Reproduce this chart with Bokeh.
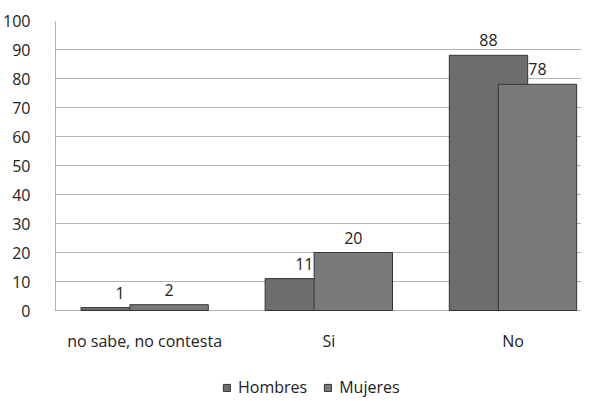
from bokeh.plotting import figure
from bokeh.models import ColumnDataSource, Range1d, FixedTicker, Legend, LegendItem, LabelSet
from bokeh.core.properties import value
from bokeh.embed import file_html
from bokeh.resources import INLINE

categories = ["no sabe, no contesta", "Si", "No"]
hombres = [1, 11, 88]
mujeres = [2, 20, 78]
y_ticks = [0, 10, 20, 30, 40, 50, 60, 70, 80, 90, 100]

FONT = "Open Sans"
idx = list(range(len(categories)))
off = 0.133
bw = 0.4255

src_h = ColumnDataSource(dict(x=[i - off for i in idx], top=hombres, lab=[str(v) for v in hombres]))
src_m = ColumnDataSource(dict(x=[i + off for i in idx], top=mujeres, lab=[str(v) for v in mujeres]))
src_c = ColumnDataSource(dict(x=idx, y=[0] * len(idx), lab=categories))

# frame spans the legend area too; value 0 sits 88px above the frame bottom
p = figure(width=581, height=398, output_backend="svg", toolbar_location=None,
           x_range=Range1d(-0.484, 2.372), y_range=Range1d(-30.34, 100),
           min_border_left=44, min_border_right=0, min_border_top=20, min_border_bottom=0)
p.outline_line_color = None
p.background_fill_color = "white"
p.xaxis.visible = False

rh = p.vbar(x="x", top="top", width=bw, bottom=0, source=src_h,
            fill_color="#6e6e6e", line_color="#333333", line_width=1)
rm = p.vbar(x="x", top="top", width=bw, bottom=0, source=src_m,
            fill_color="#7a7a7a", line_color="#333333", line_width=1)

for s in (src_h, src_m):
    p.add_layout(LabelSet(x="x", y="top", text="lab", source=s, y_offset=9,
                          text_align="center", text_baseline="bottom",
                          text_font=value(FONT), text_font_size=value("16px"),
                          text_color="#222222"))

p.add_layout(LabelSet(x="x", y="y", text="lab", source=src_c, y_offset=-30,
                      text_align="center", text_baseline="middle",
                      text_font=value(FONT), text_font_size=value("16px"),
                      text_color="#222222"))

p.yaxis.ticker = FixedTicker(ticks=y_ticks)
p.yaxis.bounds = (0, 100)
p.yaxis.major_label_text_font = FONT
p.yaxis.major_label_text_font_size = "16px"
p.yaxis.major_label_text_color = "#222222"
p.yaxis.major_label_standoff = 19
p.yaxis.major_tick_line_color = None
p.yaxis.minor_tick_line_color = None
p.yaxis.axis_line_color = "#666666"
p.yaxis.axis_line_dash = "1 1"

p.xgrid.grid_line_color = None
p.ygrid.grid_line_color = "#666666"
p.ygrid.grid_line_dash = "1 1"
p.ygrid.grid_line_width = 1

legend = Legend(items=[LegendItem(label="Hombres", renderers=[rh]),
                       LegendItem(label="Mujeres", renderers=[rm])],
                orientation="horizontal", location=(167, 0),
                label_text_font=FONT, label_text_font_size="16px", label_text_color="#222222",
                glyph_width=9, glyph_height=9, spacing=16, padding=0, margin=0,
                label_standoff=7, border_line_color=None, background_fill_alpha=0)
p.add_layout(legend, "center")

open("out.html", "w").write(file_html(p, INLINE))
